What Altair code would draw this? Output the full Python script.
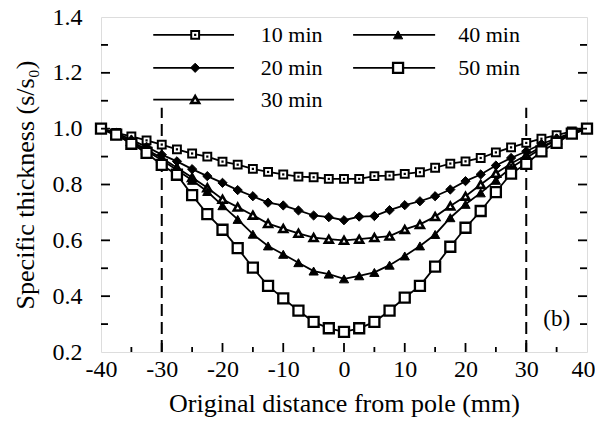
import altair as alt
import pandas as pd

# ---------------- data ----------------
positions = [-40, -37.5, -35, -32.5, -30, -27.5, -25, -22.5, -20, -17.5, -15, -12.5, -10,
             -7.5, -5, -2.5, 0, 2.5, 5, 7.5, 10, 12.5, 15, 17.5, 20, 22.5, 25, 27.5, 30,
             32.5, 35, 37.5, 40]

t10 = [1.00, 0.985, 0.972, 0.958, 0.943, 0.926, 0.911, 0.900, 0.882, 0.871, 0.856, 0.845, 0.836,
       0.828, 0.826, 0.820, 0.820, 0.820, 0.830, 0.832, 0.838, 0.844, 0.860, 0.875, 0.883, 0.895,
       0.915, 0.933, 0.949, 0.964, 0.977, 0.990, 1.00]
t20 = [1.00, 0.985, 0.960, 0.935, 0.907, 0.883, 0.855, 0.830, 0.806, 0.780, 0.758, 0.735, 0.725,
       0.707, 0.689, 0.683, 0.672, 0.685, 0.687, 0.708, 0.726, 0.740, 0.758, 0.782, 0.812, 0.836,
       0.868, 0.895, 0.919, 0.945, 0.965, 0.985, 1.00]
t30 = [1.00, 0.980, 0.955, 0.925, 0.895, 0.860, 0.825, 0.788, 0.747, 0.719, 0.690, 0.660, 0.642,
       0.625, 0.610, 0.604, 0.600, 0.604, 0.610, 0.615, 0.639, 0.657, 0.685, 0.723, 0.758, 0.800,
       0.840, 0.875, 0.905, 0.935, 0.960, 0.980, 1.00]
t40 = [1.00, 0.975, 0.950, 0.920, 0.888, 0.852, 0.815, 0.775, 0.724, 0.675, 0.622, 0.580, 0.550,
       0.520, 0.490, 0.479, 0.462, 0.473, 0.485, 0.511, 0.544, 0.580, 0.621, 0.681, 0.729, 0.770,
       0.815, 0.860, 0.895, 0.930, 0.960, 0.980, 1.00]
t50 = [1.00, 0.979, 0.946, 0.913, 0.870, 0.835, 0.762, 0.694, 0.638, 0.572, 0.502, 0.437, 0.392,
       0.348, 0.308, 0.285, 0.272, 0.285, 0.308, 0.348, 0.395, 0.437, 0.506, 0.577, 0.645, 0.705,
       0.773, 0.839, 0.874, 0.919, 0.949, 0.982, 1.00]

series_names = ["10 min", "20 min", "30 min", "40 min", "50 min"]
series_values = [t10, t20, t30, t40, t50]

x_major = [-40, -30, -20, -10, 0, 10, 20, 30, 40]
x_minor = [-35, -25, -15, -5, 5, 15, 25, 35]
y_major = [0.2, 0.4, 0.6, 0.8, 1.0, 1.2, 1.4]
y_minor = [0.3, 0.5, 0.7, 0.9, 1.1, 1.3]
guide_x = [-30, 30]

# ---------------- layout / style ----------------
W, H = 486, 335
FONT = "Liberation Serif"

styles = {
    "10 min": dict(shape="square", size=62, fill="white", sw=2.0, dot=True),
    "20 min": dict(shape="diamond", size=85, fill="black", sw=1.0, dot=False),
    "30 min": dict(shape="triangle-up", size=62, fill="white", sw=2.6, dot=False),
    "40 min": dict(shape="triangle-up", size=85, fill="black", sw=1.0, dot=False),
    "50 min": dict(shape="square", size=100, fill="white", sw=2.3, dot=False),
}

# legend placement (in data units of the plot)
leg_cols = {"10 min": 0, "20 min": 0, "30 min": 0, "40 min": 1, "50 min": 1}
leg_rows = {"10 min": 1.336, "20 min": 1.218, "30 min": 1.104, "40 min": 1.336, "50 min": 1.218}
col_line = [(-31.4, -18.1), (1.5, 15.0)]
col_marker = [-24.5, 8.9]
col_text = [-13.7, 18.8]

rows = []
for name, vals in zip(series_names, series_values):
    for p, v in zip(positions, vals):
        rows.append({"series": name, "x": p, "y": v})
df = pd.DataFrame(rows)

xs = alt.Scale(domain=[-40, 40], nice=False, zero=False)
ys = alt.Scale(domain=[0.2, 1.4], nice=False, zero=False)

x_axis = alt.Axis(values=x_major, labelExpr="'' + datum.value", title="Original distance from pole (mm)",
                  grid=False, ticks=False, domain=False, labelFont=FONT, labelFontSize=24,
                  labelColor="black", labelPadding=5, labelFlush=False, labelOverlap=False,
                  labelOffset={"condition": {"test": "datum.value == 40", "value": -4}, "value": 0},
                  titleFont=FONT, titleFontSize=26,
                  titleFontWeight="normal", titleColor="black", titlePadding=9)
y_axis = alt.Axis(values=y_major, format=".1f", title="Specific thickness (s/s₀)",
                  grid=False, ticks=False, domain=False, labelFont=FONT, labelFontSize=24,
                  labelColor="black", labelPadding=19, labelFlush=False, labelOverlap=False,
                  titleFont=FONT, titleFontSize=26,
                  titleFontWeight="normal", titleColor="black", titlePadding=14)

base = alt.Chart(df)

lines = base.mark_line(color="black", strokeWidth=1.8).encode(
    x=alt.X("x:Q", scale=xs, axis=x_axis),
    y=alt.Y("y:Q", scale=ys, axis=y_axis),
    detail="series:N",
)

layers = [lines]

# dashed guide lines
gdf = pd.DataFrame({"x": guide_x, "y1": [0.2, 0.2], "y2": [1.075, 1.075]})
layers.append(alt.Chart(gdf).mark_rule(color="black", strokeWidth=2, strokeDash=[12, 6]).encode(
    x=alt.X("x:Q", scale=xs), y=alt.Y("y1:Q", scale=ys), y2="y2:Q"))

# markers
for name in series_names:
    st = styles[name]
    sub = df[df.series == name]
    layers.append(alt.Chart(sub).mark_point(
        shape=st["shape"], size=st["size"], filled=True, fill=st["fill"], stroke="black",
        strokeWidth=st["sw"], opacity=1).encode(x=alt.X("x:Q", scale=xs), y=alt.Y("y:Q", scale=ys)))
    if st["dot"]:
        layers.append(alt.Chart(sub).mark_point(
            shape="square", size=5, filled=True, color="black", opacity=1).encode(
            x=alt.X("x:Q", scale=xs), y=alt.Y("y:Q", scale=ys)))

# legend
for name in series_names:
    st = styles[name]
    c = leg_cols[name]
    r = leg_rows[name]
    ldf = pd.DataFrame({"x1": [col_line[c][0]], "x2": [col_line[c][1]], "xm": [col_marker[c]],
                        "xt": [col_text[c]], "y": [r], "label": [name]})
    lc = alt.Chart(ldf)
    layers.append(lc.mark_rule(color="black", strokeWidth=1.8).encode(
        x=alt.X("x1:Q", scale=xs), x2="x2:Q", y=alt.Y("y:Q", scale=ys)))
    layers.append(lc.mark_point(
        shape=st["shape"], size=st["size"], filled=True, fill=st["fill"], stroke="black",
        strokeWidth=st["sw"], opacity=1).encode(x=alt.X("xm:Q", scale=xs), y=alt.Y("y:Q", scale=ys)))
    if st["dot"]:
        layers.append(lc.mark_point(shape="square", size=5, filled=True, color="black", opacity=1).encode(
            x=alt.X("xm:Q", scale=xs), y=alt.Y("y:Q", scale=ys)))
    layers.append(lc.mark_text(align="left", baseline="middle", font=FONT, fontSize=22, color="black").encode(
        x=alt.X("xt:Q", scale=xs), y=alt.Y("y:Q", scale=ys), text="label:N"))

# panel label
bdf = pd.DataFrame({"x": [35.0], "y": [0.318], "t": ["(b)"]})
layers.append(alt.Chart(bdf).mark_text(font=FONT, fontSize=23, color="black").encode(
    x=alt.X("x:Q", scale=xs), y=alt.Y("y:Q", scale=ys), text="t:N"))

# inward ticks
xmaj = pd.DataFrame({"x": x_major[1:-1]})
xmin = pd.DataFrame({"x": x_minor})
ymaj = pd.DataFrame({"y": y_major[1:-1]})
ymin = pd.DataFrame({"y": y_minor})
tk = dict(color="black", strokeWidth=1.8)
layers.append(alt.Chart(xmaj).mark_rule(**tk).encode(
    x=alt.X("x:Q", scale=xs), y=alt.value(H), y2=alt.value(H - 9)))
layers.append(alt.Chart(xmin).mark_rule(**tk).encode(
    x=alt.X("x:Q", scale=xs), y=alt.value(H), y2=alt.value(H - 5)))
for (d, L) in [(ymaj, 9), (ymin, 7)]:
    layers.append(alt.Chart(d).mark_rule(**tk).encode(
        y=alt.Y("y:Q", scale=ys), x=alt.value(0), x2=alt.value(L)))
    layers.append(alt.Chart(d).mark_rule(**tk).encode(
        y=alt.Y("y:Q", scale=ys), x=alt.value(W), x2=alt.value(W - L)))

chart = alt.layer(*layers).properties(
    width=W, height=H,
    autosize=alt.AutoSizeParams(type="none"),
    padding={"left": 93, "top": 9, "right": 8, "bottom": 68},
).configure_view(stroke="black", strokeWidth=2).configure(background="white")

chart.save("out.html", embed_options={"renderer": "svg", "actions": False})
